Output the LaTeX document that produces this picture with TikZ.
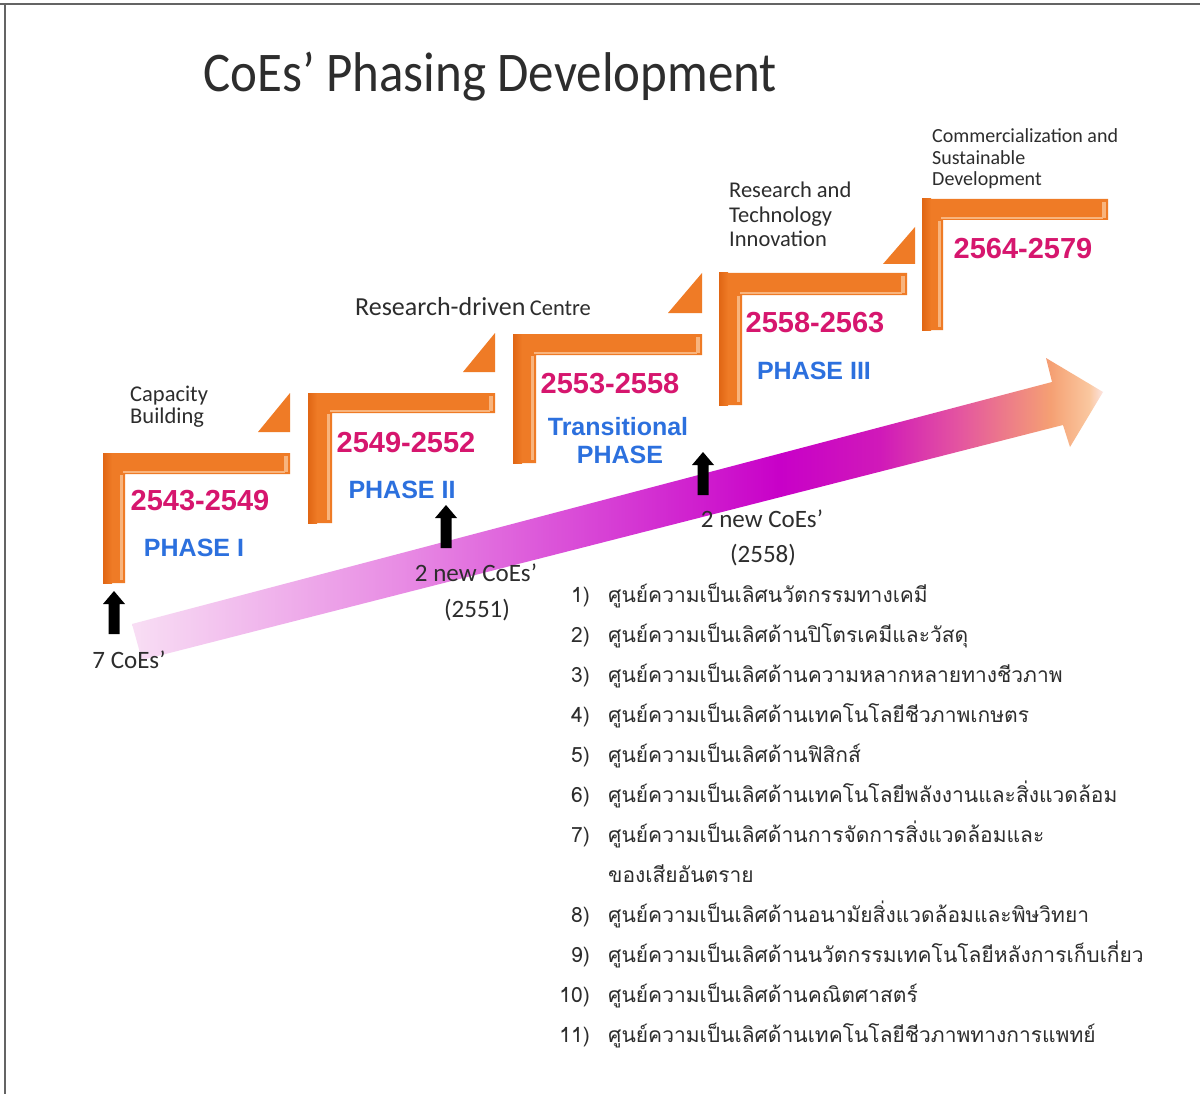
\documentclass[tikz,border=0pt]{standalone}
\usepackage{fontspec}
\usepackage{graphicx}
\setmainfont{Carlito}
\newfontfamily\thaifont[Script=Thai]{Loma}
\newfontfamily\arialfont{Liberation Sans}

\definecolor{orM}{RGB}{239,123,38}
\definecolor{orD}{RGB}{224,102,20}
\definecolor{orHL}{RGB}{248,180,125}
\definecolor{yearc}{RGB}{214,22,110}
\definecolor{phasec}{RGB}{44,112,222}
\definecolor{txtc}{RGB}{45,45,45}
\definecolor{framec}{RGB}{100,100,100}
\definecolor{ar0}{RGB}{248,222,244}
\definecolor{ar1}{RGB}{232,140,228}
\definecolor{ar2}{RGB}{200,0,200}
\definecolor{ar3}{RGB}{208,25,185}
\definecolor{ar4}{RGB}{228,85,160}
\definecolor{ar5}{RGB}{245,160,115}
\definecolor{ar6}{RGB}{250,200,160}
\definecolor{ar7}{RGB}{252,228,225}
\pgfdeclarehorizontalshading{bigarrowshade}{100bp}{color(0bp)=(ar0); color(25bp)=(ar0); color(38.8bp)=(ar1); color(58.4bp)=(ar2); color(63.5bp)=(ar3); color(67.6bp)=(ar4); color(72.3bp)=(ar5); color(74.3bp)=(ar6); color(75bp)=(ar7); color(100bp)=(ar7)}

% #1 left, #2 top, #3 right, #4 bottom of horizontal bar, #5 right of vertical bar, #6 bottom
\newcommand\coestep[6]{%
  \fill[orM] (#1,#2) -- (#3,#2) -- (#3,#4) -- (#5,#4) -- (#5,#6) -- (#1,#6) -- cycle;
  \shade[left color=orD, right color=orM] (#1,#2) rectangle ({#1+9},#6);
  \fill[orHL] ({#5-5},{#4+1}) rectangle ({#5-2},{#6-3});
  \fill[orHL] ({#5-2},{#4-3}) rectangle ({#3-5},{#4-1});
  \fill[orHL] ({#3-6},{#2+3}) rectangle ({#3-2},{#4-2});
}
% #1 left x, #2 right x, #3 bottom y, #4 top y
\newcommand\coetri[4]{%
  \fill[orM] (#1,#3) -- (#2,#3) -- (#2,#4) -- cycle;
}

\tikzset{
  yearlbl/.style={text=yearc, inner sep=0, font=\arialfont\bfseries\fontsize{29}{29}\selectfont},
  phaselbl/.style={text=phasec, inner sep=0, font=\arialfont\bfseries\fontsize{25}{25}\selectfont},
  desclbl/.style={text=txtc, inner sep=0, anchor=base west},
  coelbl/.style={text=txtc, inner sep=0, anchor=base, font=\fontsize{25}{25}\selectfont},
  itemnum/.style={text=txtc, inner sep=0, anchor=base east, font=\thaifont\fontsize{21}{21}\selectfont},
  itemtxt/.style={text=txtc, inner sep=0, anchor=base west, font=\thaifont\fontsize{21}{21}\selectfont},
  blk/.style={fill=black},
}

\begin{document}
\begin{tikzpicture}[x=1pt,y=-1pt]
\useasboundingbox (0,0) rectangle (1200,1094);
\fill[white] (0,0) rectangle (1200,1094);
\draw[framec, line width=2pt] (0,4) -- (1200,4);
\draw[framec, line width=2pt] (5,4) -- (5,1094);

% title
\node[anchor=base west, inner sep=0, text=txtc] (title) at (203,92)
  {\scalebox{0.91}[1]{\fontsize{56}{56}\selectfont CoEs’ Phasing Development}};

% big gradient arrow
\shade[shading=bigarrowshade] (132,624) -- (1052,382) -- (1046,358) -- (1103,392)
  -- (1070,447) -- (1063,425) -- (142,660) -- cycle;

% steps
\coestep{103}{453}{290}{474}{125}{583}
\coestep{308}{393}{495}{413}{332}{523}
\coestep{513}{334}{702}{355}{536}{463}
\coestep{719}{273}{907}{295}{742}{405}
\coestep{922}{199}{1108}{220}{943}{330}
\coetri{258}{290}{432}{393}
\coetri{463}{495}{372}{333}
\coetri{668}{702}{313}{273}
\coetri{883}{915}{264}{227}

% year / phase labels
\node[yearlbl] (y1) at (200,501) {2543-2549};
\node[phaselbl] (p1) at (194,548) {PHASE I};
\node[yearlbl] (y2) at (406,443) {2549-2552};
\node[phaselbl] (p2) at (402,490) {PHASE II};
\node[yearlbl] (y3) at (610,384) {2553-2558};
\node[phaselbl] (p3a) at (618,427) {Transitional};
\node[phaselbl] (p3b) at (620,455) {PHASE};
\node[yearlbl] (y4) at (815,323) {2558-2563};
\node[phaselbl] (p4) at (814,371) {PHASE III};
\node[yearlbl] (y5) at (1023,249) {2564-2579};

% stage descriptions
\node[desclbl, font=\fontsize{22.5}{22.5}\selectfont] (d1a) at (130,401) {Capacity};
\node[desclbl, font=\fontsize{22.5}{22.5}\selectfont] (d1b) at (130,423) {Building};
\node[desclbl, font=\fontsize{26}{26}\selectfont] (d2a) at (355,316) {Research-driven};
\node[desclbl, font=\fontsize{22.5}{22.5}\selectfont, anchor=base west] (d2b) at ([xshift=4pt]d2a.base east) {Centre};
\node[desclbl, font=\fontsize{22.5}{22.5}\selectfont] (d3a) at (729,198) {Research and};
\node[desclbl, font=\fontsize{22.5}{22.5}\selectfont] (d3b) at (729,222.5) {Technology};
\node[desclbl, font=\fontsize{22.5}{22.5}\selectfont] (d3c) at (729,247) {Innovation};
\node[desclbl, font=\fontsize{20}{20}\selectfont] (d4a) at (932,143) {Commercialization and};
\node[desclbl, font=\fontsize{20}{20}\selectfont] (d4b) at (932,164.5) {Sustainable};
\node[desclbl, font=\fontsize{20}{20}\selectfont] (d4c) at (932,186) {Development};

% black up arrows
\coordinate (u1) at (114,591);
\coordinate (u2) at (446,505);
\coordinate (u3) at (703,452);
\foreach \u in {u1,u2,u3}{
  \fill[blk] (\u) -- ++(11,13) -- ++(-5.5,0) -- ++(0,30) -- ++(-11,0) -- ++(0,-30) -- ++(-5.5,0) -- cycle;
}

% CoE labels
\node[coelbl] (c1) at (129,668) {7 CoEs’};
\node[coelbl] (c2) at (476,581) {2 new CoEs’};
\node[coelbl] (c2y) at (477,617) {(2551)};
\node[coelbl] (c3) at (762,527) {2 new CoEs’};
\node[coelbl] (c3y) at (763,562) {(2558)};

% Thai list
\node[itemnum] (n1) at (590,602) {1)};
\node[itemtxt] (t1) at (608,602) {ศูนย์ความเป็นเลิศนวัตกรรมทางเคมี};
\node[itemnum] (n2) at (590,642) {2)};
\node[itemtxt] (t2) at (608,642) {ศูนย์ความเป็นเลิศด้านปิโตรเคมีและวัสดุ};
\node[itemnum] (n3) at (590,682) {3)};
\node[itemtxt] (t3) at (608,682) {ศูนย์ความเป็นเลิศด้านความหลากหลายทางชีวภาพ};
\node[itemnum] (n4) at (590,722) {4)};
\node[itemtxt] (t4) at (608,722) {ศูนย์ความเป็นเลิศด้านเทคโนโลยีชีวภาพเกษตร};
\node[itemnum] (n5) at (590,762) {5)};
\node[itemtxt] (t5) at (608,762) {ศูนย์ความเป็นเลิศด้านฟิสิกส์};
\node[itemnum] (n6) at (590,802) {6)};
\node[itemtxt] (t6) at (608,802) {ศูนย์ความเป็นเลิศด้านเทคโนโลยีพลังงานและสิ่งแวดล้อม};
\node[itemnum] (n7) at (590,842) {7)};
\node[itemtxt] (t7) at (608,842) {ศูนย์ความเป็นเลิศด้านการจัดการสิ่งแวดล้อมและ};
\node[itemtxt] (t7b) at (608,882) {ของเสียอันตราย};
\node[itemnum] (n8) at (590,922) {8)};
\node[itemtxt] (t8) at (608,922) {ศูนย์ความเป็นเลิศด้านอนามัยสิ่งแวดล้อมและพิษวิทยา};
\node[itemnum] (n9) at (590,962) {9)};
\node[itemtxt] (t9) at (608,962) {ศูนย์ความเป็นเลิศด้านนวัตกรรมเทคโนโลยีหลังการเก็บเกี่ยว};
\node[itemnum] (n10) at (590,1002) {10)};
\node[itemtxt] (t10) at (608,1002) {ศูนย์ความเป็นเลิศด้านคณิตศาสตร์};
\node[itemnum] (n11) at (590,1042) {11)};
\node[itemtxt] (t11) at (608,1042) {ศูนย์ความเป็นเลิศด้านเทคโนโลยีชีวภาพทางการแพทย์};
\end{tikzpicture}
\end{document}
